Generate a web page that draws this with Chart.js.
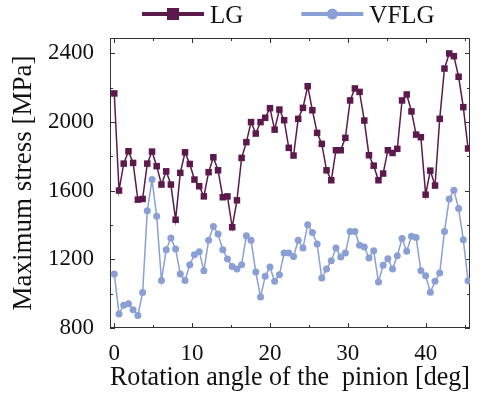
<!DOCTYPE html>
<html>
<head>
<meta charset="utf-8">
<title>Maximum stress vs rotation angle</title>
<script src="https://cdn.jsdelivr.net/npm/chart.js@4/dist/chart.umd.min.js"></script>
<style>
  html, body { margin: 0; padding: 0; background: #fff; }
  #chart { display: block; }
</style>
</head>
<body>
<canvas id="chart" width="488" height="398"></canvas>
<script>
// rotation angle of the pinion [deg]
const angles = [
  0, 0.61, 1.21, 1.82, 2.42, 3.03, 3.64, 4.24, 4.85, 5.45,
  6.06, 6.67, 7.27, 7.88, 8.48, 9.09, 9.70, 10.30, 10.91, 11.51,
  12.12, 12.73, 13.33, 13.94, 14.54, 15.15, 15.76, 16.36, 16.97, 17.57,
  18.18, 18.79, 19.39, 20.00, 20.60, 21.21, 21.82, 22.42, 23.03, 23.63,
  24.24, 24.85, 25.45, 26.06, 26.66, 27.27, 27.88, 28.48, 29.09, 29.69,
  30.30, 30.91, 31.51, 32.12, 32.72, 33.33, 33.94, 34.54, 35.15, 35.75,
  36.36, 36.97, 37.57, 38.18, 38.78, 39.39, 40.00, 40.60, 41.21, 41.81,
  42.42, 43.03, 43.63, 44.24, 44.84, 45.45
];

// maximum stress [MPa]
const lgStress = [
  2167, 1601, 1758, 1830, 1762, 1548, 1552, 1758, 1828, 1743,
  1636, 1713, 1636, 1431, 1704, 1824, 1756, 1665, 1626, 1567,
  1708, 1795, 1719, 1562, 1567, 1387, 1544, 1791, 1883, 2000,
  1933, 2000, 2025, 2081, 1956, 2073, 2011, 1850, 1805, 2019,
  2083, 2209, 2069, 1937, 1873, 1719, 1661, 1836, 1836, 1908,
  2126, 2196, 2176, 2009, 1807, 1746, 1661, 1700, 1836, 1820,
  1844, 2126, 2161, 2062, 1927, 1912, 1577, 1717, 1630, 2019,
  2312, 2400, 2384, 2264, 2087, 1846
];

const vflgStress = [
  1114, 881, 933, 941, 906, 873, 1007, 1484, 1665, 1451,
  1077, 1256, 1324, 1260, 1114, 1077, 1169, 1227, 1245, 1134,
  1311, 1392, 1348, 1256, 1202, 1159, 1144, 1169, 1338, 1311,
  1126, 980, 1101, 1155, 1072, 1110, 1237, 1237, 1217, 1311,
  1266, 1402, 1357, 1289, 1091, 1144, 1192, 1266, 1214, 1237,
  1363, 1363, 1282, 1272, 1208, 1250, 1068, 1165, 1204, 1144,
  1221, 1321, 1247, 1334, 1328, 1134, 1105, 1009, 1072, 1120,
  1363, 1552, 1603, 1496, 1315, 1075
];

const xTickLabels = [0, 10, 20, 30, 40];
const yTickLabels = [800, 1200, 1600, 2000, 2400];

const LG_COLOR = "#5c1a4c";
const VFLG_COLOR = "#8a9fd6";
const FONT = '"Liberation Serif", "Times New Roman", serif';

const toPoints = ys => ys.map((v, i) => ({ x: angles[i], y: v }));

// box around the plot with inward ticks on every side
const frameTicks = {
  id: "frameTicks",
  beforeDatasetsDraw(chart) {
    const { ctx, chartArea: a, scales: { x, y } } = chart;
    ctx.save();
    ctx.strokeStyle = "#333";
    ctx.lineWidth = 1;
    ctx.beginPath();
    x.ticks.forEach(t => {
      const px = Math.round(x.getPixelForValue(t.value)) + 0.5;
      const len = xTickLabels.includes(t.value) ? 5 : 3;
      ctx.moveTo(px, a.bottom); ctx.lineTo(px, a.bottom - len);
      ctx.moveTo(px, a.top); ctx.lineTo(px, a.top + len);
    });
    y.ticks.forEach(t => {
      const py = Math.round(y.getPixelForValue(t.value)) + 0.5;
      const len = yTickLabels.includes(t.value) ? 5 : 3;
      ctx.moveTo(a.left, py); ctx.lineTo(a.left + len, py);
      ctx.moveTo(a.right, py); ctx.lineTo(a.right - len, py);
    });
    ctx.stroke();
    ctx.strokeRect(Math.round(a.left) + 0.5, Math.round(a.top) + 0.5,
      Math.round(a.right - a.left) - 1, Math.round(a.bottom - a.top) - 1);
    ctx.restore();
  }
};

// legend above the plot: thick line + marker, then the label
const lineLegend = {
  id: "lineLegend",
  afterDraw(chart) {
    const { ctx, chartArea: a } = chart;
    const cx = (a.left + a.right) / 2;
    const midY = 14;
    let x = cx - 148;
    ctx.save();
    ctx.font = "25px " + FONT;
    ctx.textBaseline = "alphabetic";
    chart.data.datasets.forEach(ds => {
      ctx.strokeStyle = ds.borderColor;
      ctx.fillStyle = ds.borderColor;
      ctx.lineWidth = 4;
      ctx.beginPath(); ctx.moveTo(x, midY); ctx.lineTo(x + 62, midY); ctx.stroke();
      if (ds.pointStyle === "rect") {
        ctx.fillRect(x + 25, midY - 6, 12, 12);
      } else {
        ctx.beginPath(); ctx.arc(x + 31, midY, 5.5, 0, Math.PI * 2); ctx.fill();
      }
      ctx.fillStyle = "#111";
      ctx.fillText(ds.label, x + 68, 23);
      x += 68 + ctx.measureText(ds.label).width + 58;
    });
    ctx.restore();
  }
};

Chart.defaults.font.family = FONT;
Chart.defaults.color = "#111";

new Chart(document.getElementById("chart"), {
  type: "line",
  data: {
    datasets: [{
      label: "LG",
      data: toPoints(lgStress),
      borderColor: LG_COLOR,
      backgroundColor: LG_COLOR,
      borderWidth: 1.5,
      pointStyle: "rect",
      pointRadius: 4.6,
      pointBorderWidth: 0,
      tension: 0
    }, {
      label: "VFLG",
      data: toPoints(vflgStress),
      borderColor: VFLG_COLOR,
      backgroundColor: VFLG_COLOR,
      borderWidth: 1.5,
      pointStyle: "circle",
      pointRadius: 3.5,
      pointBorderWidth: 0,
      tension: 0
    }]
  },
  options: {
    responsive: false,
    animation: false,
    devicePixelRatio: 1,
    layout: { padding: { top: 38, right: 18, bottom: 0, left: 0 } },
    plugins: {
      tooltip: { enabled: false },
      legend: { display: false }
    },
    scales: {
      x: {
        type: "linear",
        min: -0.55,
        max: 45.7,
        afterFit: s => { s.height = 70; },
        grid: { display: false },
        border: { display: false },
        ticks: {
          stepSize: 5,
          includeBounds: false,
          autoSkip: false,
          maxRotation: 0,
          padding: 4,
          font: { size: 23 },
          callback: v => xTickLabels.includes(v) ? String(v) : ""
        },
        title: {
          display: true,
          text: "Rotation angle of the  pinion [deg]",
          font: { size: 27 },
          padding: { top: 0, bottom: 4 }
        }
      },
      y: {
        min: 800,
        max: 2490,
        afterFit: s => { s.width = 110; },
        grid: { display: false },
        border: { display: false },
        ticks: {
          stepSize: 200,
          includeBounds: false,
          autoSkip: false,
          padding: 8,
          font: { size: 23 },
          callback: v => yTickLabels.includes(v) ? String(v) : ""
        },
        title: {
          display: true,
          text: "Maximum stress [MPa]",
          font: { size: 27 },
          padding: { top: 8, bottom: 0 }
        }
      }
    }
  },
  plugins: [frameTicks, lineLegend]
});
</script>
</body>
</html>
